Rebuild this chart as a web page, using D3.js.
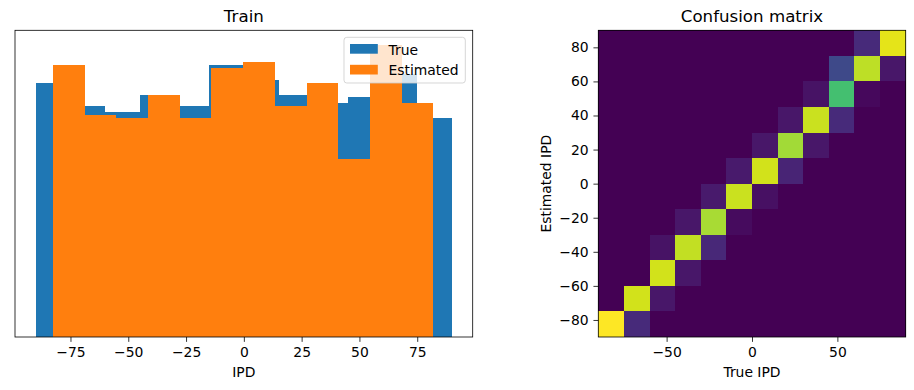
<!DOCTYPE html>
<html>
<head>
<meta charset="utf-8">
<script src="https://cdn.jsdelivr.net/npm/d3@7"></script>
<style>
  body { margin: 0; background: #fff; }
  svg { display: block; font-family: "DejaVu Sans", sans-serif; }
</style>
</head>
<body>
<div id="chart"></div>
<script>
// histogram bins (IPD, degrees) and counts
const trueEdges = [-90, -75, -60, -45, -30, -15, 0, 15, 30, 45, 60, 75, 90];
const trueCounts = [87, 79, 77, 83, 79, 93, 88, 83, 80, 82, 90, 75];
const estEdges = [-82.5, -68.8, -55.1, -41.4, -27.7, -14.0, -0.3, 13.5, 27.2, 40.9, 54.6, 68.3, 82.0];
const estCounts = [93, 76, 75, 83, 75, 92, 94, 79, 87, 61, 100, 80];
const histTicks = [-75, -50, -25, 0, 25, 50, 75];

// confusion matrix, rows = estimated bin (bottom to top), cols = true bin
const cmEdges = [-90, -75, -60, -45, -30, -15, 0, 15, 30, 45, 60, 75, 90];
const confusion = [
  [1.00, 0.12, 0, 0, 0, 0, 0, 0, 0, 0, 0, 0],
  [0, 0.93, 0.06, 0, 0, 0, 0, 0, 0, 0, 0, 0],
  [0, 0, 0.93, 0.06, 0, 0, 0, 0, 0, 0, 0, 0],
  [0, 0, 0.05, 0.91, 0.11, 0, 0, 0, 0, 0, 0, 0],
  [0, 0, 0, 0.06, 0.87, 0.03, 0, 0, 0, 0, 0, 0],
  [0, 0, 0, 0, 0.07, 0.92, 0.04, 0, 0, 0, 0, 0],
  [0, 0, 0, 0, 0, 0.07, 0.93, 0.10, 0, 0, 0, 0],
  [0, 0, 0, 0, 0, 0, 0.06, 0.86, 0.06, 0, 0, 0],
  [0, 0, 0, 0, 0, 0, 0, 0.06, 0.92, 0.12, 0, 0],
  [0, 0, 0, 0, 0, 0, 0, 0, 0.05, 0.70, 0.02, 0],
  [0, 0, 0, 0, 0, 0, 0, 0, 0, 0.22, 0.90, 0.06],
  [0, 0, 0, 0, 0, 0, 0, 0, 0, 0, 0.12, 0.96]
];
const cmXTicks = [-50, 0, 50];
const cmYTicks = [-80, -60, -40, -20, 0, 20, 40, 60, 80];

const width = 914, height = 390;
const fs = 13.9;
const tick = 4.86;

const svg = d3.select("#chart").append("svg")
    .attr("width", width)
    .attr("height", height);

// ---------- left: histogram ----------
const left = {x0: 15, x1: 472.7, y0: 30.3, y1: 337};

const x = d3.scaleLinear().domain([-99, 99]).range([left.x0, left.x1]);
const y = d3.scaleLinear()
    .domain([0, d3.max(trueCounts.concat(estCounts)) * 1.05])
    .range([left.y1, left.y0]);

const bins = (edges, counts) => counts.map((c, i) => ({x0: edges[i], x1: edges[i + 1], n: c}));

svg.append("g").attr("fill", "#1f77b4").attr("shape-rendering", "crispEdges")
  .selectAll("rect")
  .data(bins(trueEdges, trueCounts))
  .join("rect")
    .attr("x", d => x(d.x0))
    .attr("width", d => x(d.x1) - x(d.x0))
    .attr("y", d => y(d.n))
    .attr("height", d => y(0) - y(d.n));

svg.append("g").attr("fill", "#ff7f0e").attr("shape-rendering", "crispEdges")
  .selectAll("rect")
  .data(bins(estEdges, estCounts))
  .join("rect")
    .attr("x", d => x(d.x0))
    .attr("width", d => x(d.x1) - x(d.x0))
    .attr("y", d => y(d.n))
    .attr("height", d => y(0) - y(d.n));

const styleAxis = g => {
  g.select(".domain").remove();
  g.selectAll(".tick line").attr("stroke", "#000").attr("stroke-width", 0.8);
  g.selectAll(".tick text").attr("fill", "#000").attr("font-size", fs)
    .attr("font-family", "DejaVu Sans");
};

svg.append("g")
    .attr("transform", `translate(0,${left.y1})`)
    .call(d3.axisBottom(x).tickValues(histTicks).tickSize(tick).tickPadding(tick))
    .call(styleAxis);

svg.append("rect")
    .attr("x", left.x0).attr("y", left.y0)
    .attr("width", left.x1 - left.x0).attr("height", left.y1 - left.y0)
    .attr("fill", "none").attr("stroke", "#000").attr("stroke-width", 0.8);

svg.append("text")
    .attr("x", (left.x0 + left.x1) / 2).attr("y", 21.5)
    .attr("text-anchor", "middle").attr("font-size", 16.67)
    .text("Train");

svg.append("text")
    .attr("x", (left.x0 + left.x1) / 2).attr("y", 376.5)
    .attr("text-anchor", "middle").attr("font-size", fs)
    .text("IPD");

// legend
const lg = svg.append("g");
lg.append("rect")
    .attr("x", 344).attr("y", 37.3).attr("width", 121.3).attr("height", 45.7)
    .attr("rx", 2.8)
    .attr("fill", "#fff").attr("fill-opacity", 0.8)
    .attr("stroke", "#ccc").attr("stroke-opacity", 0.8).attr("stroke-width", 1);
[["True", "#1f77b4", 44], ["Estimated", "#ff7f0e", 64.8]].forEach(([label, c, yy]) => {
  lg.append("rect").attr("x", 350).attr("y", yy).attr("width", 27.8).attr("height", 9.7).attr("fill", c);
  lg.append("text").attr("x", 388.5).attr("y", yy + 10.5).attr("font-size", fs).text(label);
});

// ---------- right: confusion matrix ----------
const right = {x0: 598.3, x1: 905.7, y0: 30.3, y1: 337};
const xc = d3.scaleLinear().domain([-90, 90]).range([right.x0, right.x1]);
const yc = d3.scaleLinear().domain([-90, 90]).range([right.y1, right.y0]);
const color = d3.scaleSequential(d3.interpolateViridis)
    .domain([0, d3.max(confusion.flat())]);

const cells = [];
confusion.forEach((row, r) => row.forEach((v, c) => cells.push({r, c, v})));

svg.append("g").attr("shape-rendering", "crispEdges")
  .selectAll("rect")
  .data(cells)
  .join("rect")
    .attr("x", d => xc(cmEdges[d.c]))
    .attr("width", d => xc(cmEdges[d.c + 1]) - xc(cmEdges[d.c]))
    .attr("y", d => yc(cmEdges[d.r + 1]))
    .attr("height", d => yc(cmEdges[d.r]) - yc(cmEdges[d.r + 1]))
    .attr("fill", d => color(d.v));

svg.append("g")
    .attr("transform", `translate(0,${right.y1})`)
    .call(d3.axisBottom(xc).tickValues(cmXTicks).tickSize(tick).tickPadding(tick))
    .call(styleAxis);

svg.append("g")
    .attr("transform", `translate(${right.x0},0)`)
    .call(d3.axisLeft(yc).tickValues(cmYTicks).tickSize(tick).tickPadding(tick))
    .call(styleAxis);

svg.append("rect")
    .attr("x", right.x0).attr("y", right.y0)
    .attr("width", right.x1 - right.x0).attr("height", right.y1 - right.y0)
    .attr("fill", "none").attr("stroke", "#000").attr("stroke-width", 0.8);

svg.append("text")
    .attr("x", (right.x0 + right.x1) / 2).attr("y", 21.5)
    .attr("text-anchor", "middle").attr("font-size", 16.67)
    .text("Confusion matrix");

svg.append("text")
    .attr("x", (right.x0 + right.x1) / 2).attr("y", 376.5)
    .attr("text-anchor", "middle").attr("font-size", fs)
    .text("True IPD");

svg.append("text")
    .attr("transform", `translate(550.5,${(right.y0 + right.y1) / 2}) rotate(-90)`)
    .attr("text-anchor", "middle").attr("font-size", fs)
    .text("Estimated IPD");
</script>
</body>
</html>
